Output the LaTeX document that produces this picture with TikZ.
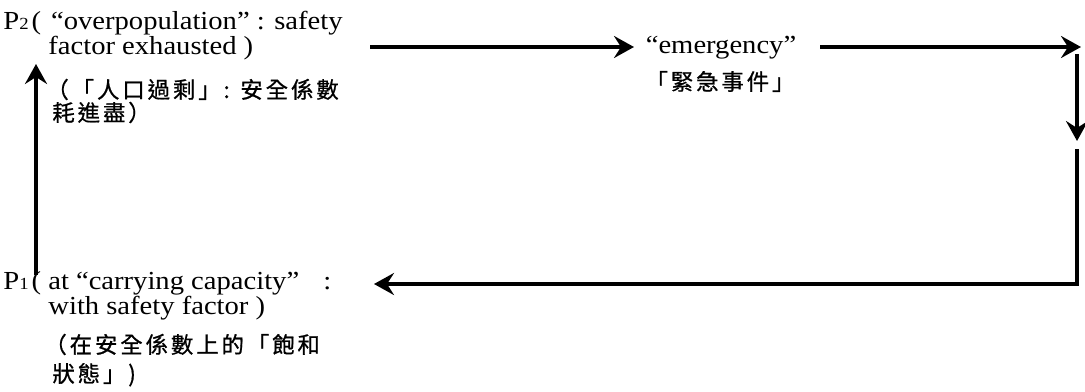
\documentclass[tikz,border=0pt]{standalone}
\usepackage{fontspec}
\setmainfont{Liberation Serif}[FakeStretch=1.1]
\newfontfamily\cjk{Noto Sans CJK TC}[LetterSpace=13, FakeBold=0.8]
\usetikzlibrary{arrows.meta}
\tikzset{
  txt/.style={inner sep=0pt, anchor=base west, font=\fontsize{13}{14}\selectfont},
  ctxt/.style={inner sep=0pt, anchor=base west, font=\fontsize{11.2}{13}\cjk},
  ctr/.style={inner sep=0pt, anchor=base, font=\fontsize{13}{14}\selectfont},
  flow/.style={line width=1.8pt, -{Stealth[length=10pt,width=11pt,inset=3.5pt]}}
}
\newcommand{\idx}[1]{{\fontsize{8.5}{8.5}\selectfont #1}}
\begin{document}
\begin{tikzpicture}[x=0.5pt,y=-0.5pt]
  \useasboundingbox (0,0) rectangle (1085,391);
  % P2 block
  \draw
    (3,29) node[txt] (p2){P\idx{2}\hspace{1.5pt}(\hspace{5pt}“overpopulation” : safety}
    (48,54) node[txt] (p2b){factor exhausted )}
    (46,98) node[ctxt] (p2c){（「人口過剩」: 安全係數}
    (52,121) node[ctxt] (p2d){耗進盡）};
  % P1 block
  \draw
    (3,289) node[txt] (p1){P\idx{1}\hspace{1.5pt}( at “carrying capacity”\hspace{12pt}:}
    (48,314) node[txt] (p1b){with safety factor )}
    (44,353) node[ctxt] (p1c){（在安全係數上的「飽和}
    (52,382) node[ctxt] (p1d){狀態」)};
  % emergency
  \draw
    (721,53) node[ctr] (em){“emergency”}
    (720,90) node[ctr, font=\fontsize{11.2}{13}\cjk] (emc){「緊急事件」};
  % arrow ends
  \coordinate (a1s) at (370,47);
  \coordinate (a1e) at (634,47);
  \coordinate (a2s) at (820,47);
  \coordinate (a2e) at (1081,47);
  \coordinate (dns) at (1077,54);
  \coordinate (dne) at (1077,141);
  \coordinate (rs) at (1077,149);
  \coordinate (rc) at (1077,284);
  \coordinate (re) at (374,284);
  \coordinate (ups) at (36,275);
  \coordinate (upe) at (36,64);
  \begin{scope}[flow]
    \draw (a1s) to (a1e);
    \draw (a2s) to (a2e);
    \draw (dns) to (dne);
    \draw (rs) -- (rc) -- (re);
    \draw (ups) to (upe);
  \end{scope}
\end{tikzpicture}
\end{document}
